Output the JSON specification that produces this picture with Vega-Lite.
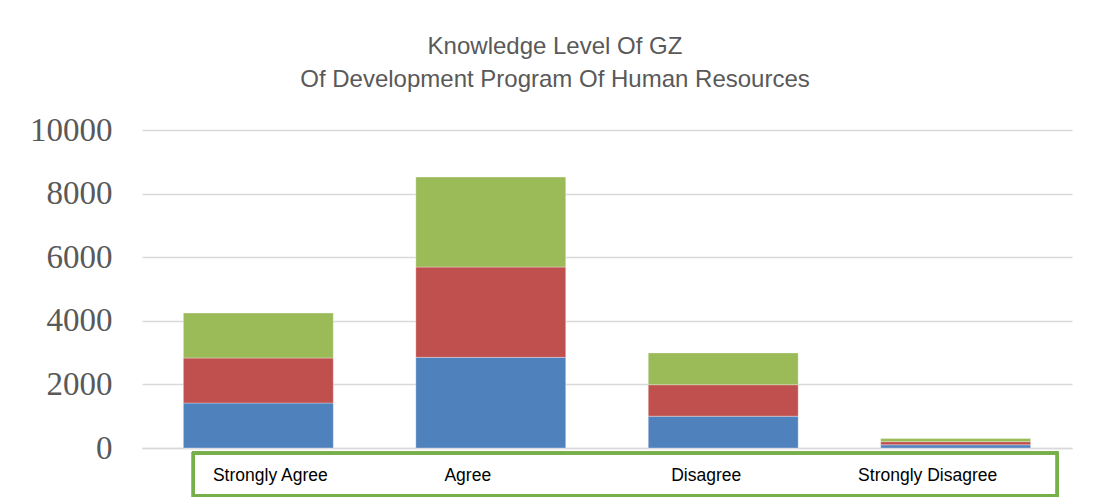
{
  "$schema": "https://vega.github.io/schema/vega-lite/v6.json",
  "width": 930,
  "height": 318,
  "autosize": "none",
  "padding": {"left": 142, "top": 130, "right": 21, "bottom": 53},
  "background": "white",
  "title": {
    "text": ["Knowledge Level Of GZ", "Of Development Program Of Human Resources"],
    "font": "Liberation Sans",
    "fontSize": 24,
    "fontWeight": "normal",
    "color": "#595959",
    "anchor": "middle",
    "dx": -52,
    "offset": 22,
    "lineHeight": 33
  },
  "config": {
    "view": {"stroke": null},
    "axis": {"gridColor": "#D9D9D9", "gridWidth": 1.5}
  },
  "data": {
    "values": [
      {"category": "Strongly Agree", "series": "Series1", "order": 1, "value": 1415},
      {"category": "Strongly Agree", "series": "Series2", "order": 2, "value": 1415},
      {"category": "Strongly Agree", "series": "Series3", "order": 3, "value": 1415},
      {"category": "Agree", "series": "Series1", "order": 1, "value": 2850},
      {"category": "Agree", "series": "Series2", "order": 2, "value": 2840},
      {"category": "Agree", "series": "Series3", "order": 3, "value": 2830},
      {"category": "Disagree", "series": "Series1", "order": 1, "value": 1000},
      {"category": "Disagree", "series": "Series2", "order": 2, "value": 990},
      {"category": "Disagree", "series": "Series3", "order": 3, "value": 1000},
      {"category": "Strongly Disagree", "series": "Series1", "order": 1, "value": 100},
      {"category": "Strongly Disagree", "series": "Series2", "order": 2, "value": 100},
      {"category": "Strongly Disagree", "series": "Series3", "order": 3, "value": 100}
    ]
  },
  "layer": [
    {
      "mark": {"type": "bar", "stroke": "#ffffff", "strokeOpacity": 0.4, "strokeWidth": 0.8},
      "encoding": {
        "x": {
          "field": "category",
          "type": "nominal",
          "sort": ["Strongly Agree", "Agree", "Disagree", "Strongly Disagree"],
          "scale": {"paddingInner": 0.355, "paddingOuter": 0.178},
          "axis": {
            "title": null,
            "labelAngle": 0,
            "ticks": false,
            "domainColor": "#D9D9D9",
            "domainWidth": 1.5,
            "labelFont": "Liberation Sans",
            "labelFontSize": 17.5,
            "labelColor": "#000000",
            "labelPadding": 18,
            "labelOffset": {"expr": "datum.value === 'Strongly Agree' ? 12 : datum.value === 'Agree' ? -23 : datum.value === 'Disagree' ? -17 : -28"}
          }
        },
        "y": {
          "field": "value",
          "type": "quantitative",
          "stack": "zero",
          "scale": {"domain": [0, 10000]},
          "axis": {
            "title": null,
            "values": [0, 2000, 4000, 6000, 8000, 10000],
            "format": "d",
            "ticks": false,
            "domain": false,
            "labelFont": "Liberation Serif",
            "labelFontSize": 33,
            "labelColor": "#595959",
            "labelPadding": 30
          }
        },
        "color": {
          "field": "series",
          "type": "nominal",
          "scale": {"domain": ["Series1", "Series2", "Series3"], "range": ["#4F81BD", "#C0504D", "#9BBB59"]},
          "legend": null
        },
        "order": {"field": "order", "type": "quantitative"}
      }
    },
    {
      "mark": {"type": "rect", "filled": false, "stroke": "#77B04B", "strokeWidth": 2.5},
      "encoding": {
        "x": {"datum": 0.055, "type": "quantitative", "scale": {"domain": [0, 1]}, "axis": null},
        "x2": {"datum": 0.984},
        "y": {"datum": -160, "type": "quantitative"},
        "y2": {"datum": -1505}
      }
    }
  ],
  "resolve": {"scale": {"x": "independent"}}
}
